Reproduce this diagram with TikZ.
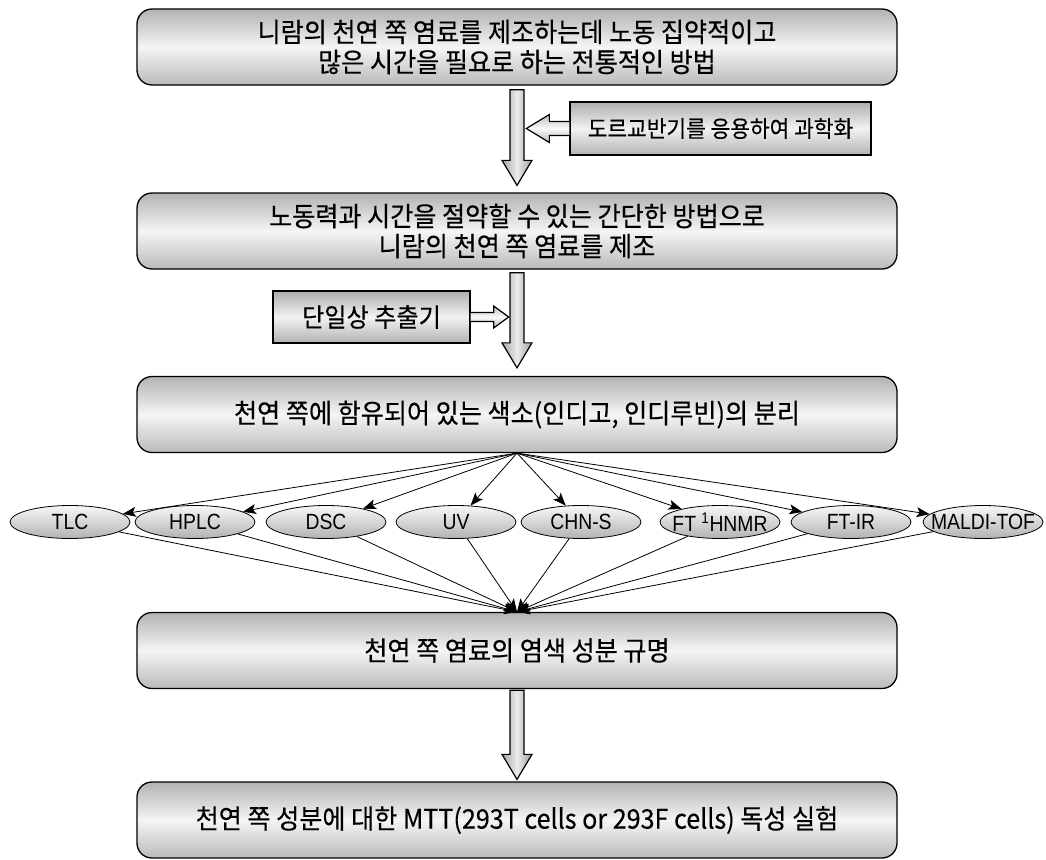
\documentclass[tikz,border=0pt]{standalone}
\usepackage{fontspec}
\newfontfamily\kr[FakeStretch=0.93,FakeBold=0.3]{Noto Sans CJK KR}
\newfontfamily\lat[FakeStretch=0.88]{Liberation Sans}
\usetikzlibrary{arrows.meta,calc,shapes.geometric}
\newcommand\bdarrow[2]{%
  \path[blockarrow] ($(#1)+(-7,0)$) -- ($(#1)+(7,0)$) -- ($(#2)+(7,-25)$) -- ($(#2)+(15,-25)$) -- (#2) -- ($(#2)+(-15,-25)$) -- ($(#2)+(-7,-25)$) -- cycle;}
\begin{document}
\begin{tikzpicture}[x=1pt,y=-1pt,
  mainbox/.style={draw=black, line width=1.3pt, rounded corners=15pt, minimum width=760pt, minimum height=76pt, align=center, top color=black!30, bottom color=black!27, middle color=black!4, font=\kr\fontsize{27}{30}\selectfont, inner sep=0pt},
  sidebox/.style={draw=black, line width=1.3pt, top color=black!32, bottom color=black!30, middle color=black!5, inner sep=0pt},
  meas/.style={ellipse, draw=black, line width=0.8pt, minimum width=120pt, minimum height=33pt, inner sep=0pt, top color=black!3, bottom color=black!30, font=\lat\fontsize{22}{22}\selectfont},
  thin/.style={line width=0.8pt, -{Stealth[length=13pt,width=10pt,inset=3pt]}},
  blockarrow/.style={draw=black, line width=1.2pt, left color=black!35, right color=black!38, middle color=black!8},
  sidearrow/.style={draw=black, line width=1.2pt, top color=black!25, bottom color=black!28, middle color=black!2}]
\useasboundingbox (0,0) rectangle (1046,859);

\node[mainbox] (b1) at (517,47) {니람의 천연 쪽 염료를 제조하는데 노동 집약적이고\\많은 시간을 필요로 하는 전통적인 방법};
\node[mainbox] (b2) at (517,231) {노동력과 시간을 절약할 수 있는 간단한 방법으로\\니람의 천연 쪽 염료를 제조};
\node[mainbox] (b3) at (517,414.5) {천연 쪽에 함유되어 있는 색소(인디고, 인디루빈)의 분리};
\node[mainbox] (b4) at (517,650.5) {천연 쪽 염료의 염색 성분 규명};
\node[mainbox] (b5) at (517,820) {천연 쪽 성분에 대한 MTT(293T cells or 293F cells) 독성 실험};

\node[sidebox, minimum width=301pt, minimum height=53pt, font=\kr\fontsize{23}{26}\selectfont] (s1) at (720.5,128.5) {도르교반기를 응용하여 과학화};
\node[sidebox, minimum width=197pt, minimum height=52pt, font=\kr\fontsize{26}{28}\selectfont] (s2) at (371.5,317) {단일상 추출기};

% big block arrows
\coordinate (a1s) at ($(b1.south)+(0,4)$);
\coordinate (a1e) at ($(b2.north)+(0,-7)$);
\coordinate (a2s) at ($(b2.south)+(0,3)$);
\coordinate (a2e) at ($(b3.north)+(0,-8)$);
\coordinate (a3s) at ($(b4.south)+(0,1)$);
\coordinate (a3e) at ($(b5.north)+(0,-2)$);
\bdarrow{a1s}{a1e}
\bdarrow{a2s}{a2e}
\bdarrow{a3s}{a3e}

% side arrows
\coordinate (t1) at ($(s1.west)+(-43,0)$);
\path[sidearrow] ($(s1.west)+(0,-7)$) -- ($(t1)+(23,-7)$) -- ($(t1)+(23,-14)$) -- (t1) -- ($(t1)+(23,14)$) -- ($(t1)+(23,7)$) -- ($(s1.west)+(0,7)$);
\coordinate (t2) at ($(s2.east)+(38,0)$);
\path[sidearrow] ($(s2.east)+(0,-4.5)$) -- ($(t2)+(-15,-4.5)$) -- ($(t2)+(-15,-11)$) -- (t2) -- ($(t2)+(-15,11)$) -- ($(t2)+(-15,4.5)$) -- ($(s2.east)+(0,4.5)$);

% measurement ellipses
\node[meas] (e1) at (70,522) {\makebox[0pt]{TLC}};
\node[meas] (e2) at (195,522) {\makebox[0pt]{HPLC}};
\node[meas] (e3) at (326,522) {\makebox[0pt]{DSC}};
\node[meas] (e4) at (456,522) {\makebox[0pt]{UV}};
\node[meas] (e5) at (581,522) {\makebox[0pt]{CHN-S}};
\node[meas] (e6) at (720,522) {\makebox[0pt]{FT \textsuperscript{1}HNMR}};
\node[meas] (e7) at (851,522) {\makebox[0pt]{FT-IR}};
\node[meas] (e8) at (983,522) {\makebox[0pt]{MALDI-TOF}};

\foreach \e in {e1,e2,e3,e4,e5,e6,e7,e8}{
  \draw[thin] (b3.south) -- (\e);
  \draw[thin] (\e) -- (b4.north);
}
\end{tikzpicture}
\end{document}
